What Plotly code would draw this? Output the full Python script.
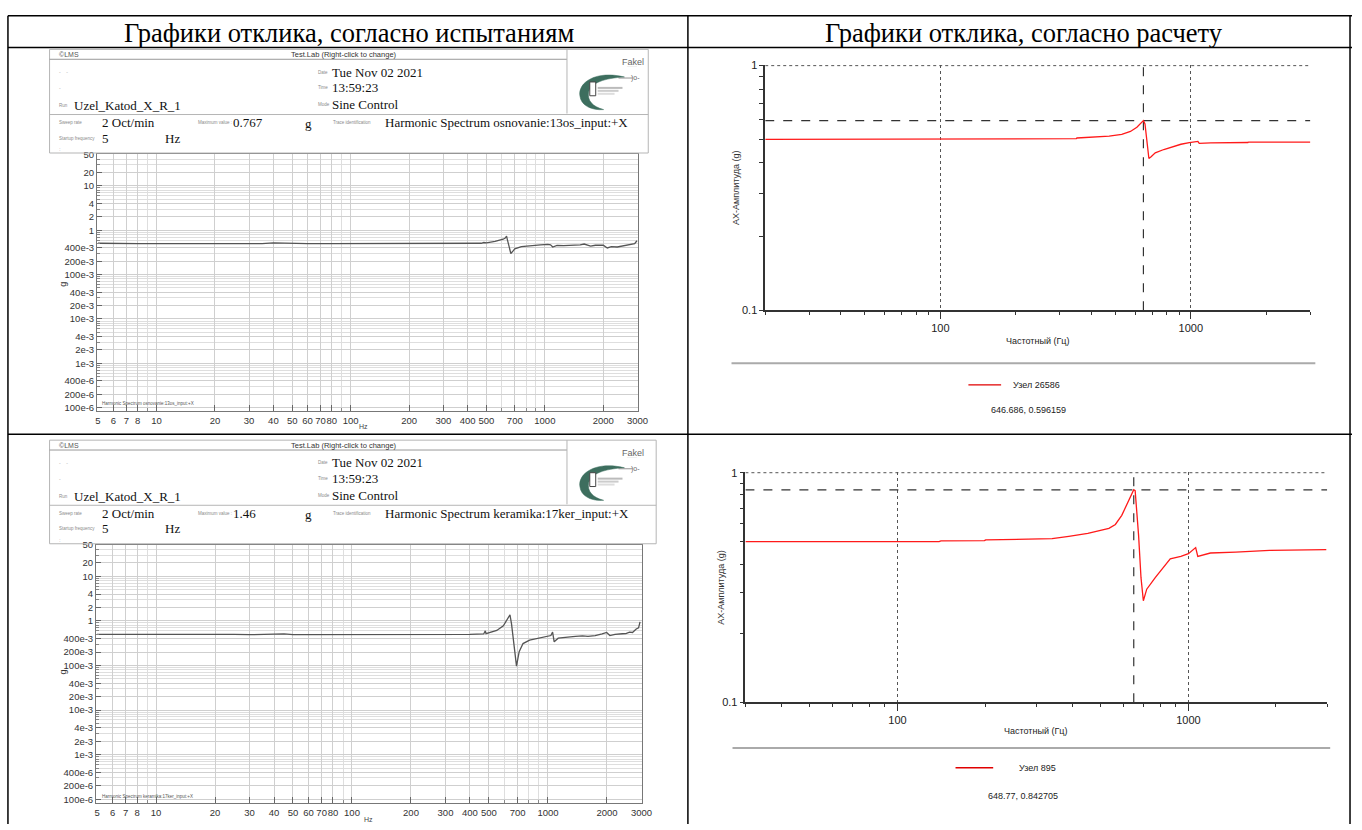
import math
import plotly.graph_objects as go

# ---------------- data ----------------
header_left = "Графики отклика, согласно испытаниям"
header_right = "Графики отклика, согласно расчету"

test1_freq = [5, 6, 7, 8, 10, 13, 17, 20, 25, 30, 35, 40, 45, 50, 60, 80, 100, 150, 200,
              300, 400, 470, 485, 500, 554, 590, 610, 625, 635, 642, 655, 668, 685, 700,
              757, 851, 950, 1036, 1070, 1098, 1155, 1250, 1362, 1450, 1520, 1594, 1650,
              1720, 1820, 1936, 2000, 2097, 2200, 2358, 2500, 2650, 2800, 2900, 2980]
test1_amp = [0.51, 0.50, 0.51, 0.50, 0.50, 0.50, 0.49, 0.50, 0.50, 0.50, 0.50, 0.52, 0.51,
             0.50, 0.50, 0.50, 0.50, 0.50, 0.50, 0.50, 0.51, 0.51, 0.53, 0.52, 0.56, 0.60,
             0.63, 0.67, 0.74, 0.60, 0.42, 0.30, 0.34, 0.38, 0.43, 0.455, 0.47, 0.48, 0.47,
             0.42, 0.455, 0.45, 0.46, 0.455, 0.47, 0.49, 0.46, 0.44, 0.46, 0.45, 0.46, 0.40,
             0.43, 0.42, 0.44, 0.46, 0.47, 0.50, 0.58]

test2_freq = [5, 6, 7, 8, 10, 13, 17, 20, 25, 30, 35, 40, 45, 50, 60, 80, 100, 150, 200, 300,
              400, 470, 479, 483, 490, 548, 592, 620, 640, 652, 673, 691, 713, 746, 806, 905,
              1000, 1035, 1056, 1076, 1128, 1200, 1300, 1382, 1500, 1600, 1741, 1890, 1993,
              2070, 2200, 2395, 2500, 2607, 2700, 2821, 2900, 2950]
test2_amp = [0.50, 0.50, 0.51, 0.50, 0.50, 0.50, 0.50, 0.50, 0.50, 0.49, 0.50, 0.50, 0.51,
             0.49, 0.49, 0.49, 0.49, 0.49, 0.49, 0.49, 0.50, 0.51, 0.60, 0.52, 0.53, 0.61,
             0.78, 1.05, 1.37, 0.85, 0.29, 0.097, 0.205, 0.31, 0.37, 0.41, 0.44, 0.47, 0.56,
             0.34, 0.41, 0.43, 0.44, 0.45, 0.46, 0.45, 0.47, 0.51, 0.55, 0.47, 0.50, 0.515,
             0.52, 0.56, 0.55, 0.66, 0.70, 0.95]

calc1_freq = [20, 100, 199, 201, 349, 351, 404, 472, 530, 574, 609, 632, 646.686, 656, 668,
              680, 694, 721, 780, 850, 913, 986, 1045, 1067, 1080, 1200, 1690, 1700, 3000]
calc1_amp = [0.4995, 0.4995, 0.4995, 0.502, 0.5025, 0.506, 0.51, 0.515, 0.523, 0.538, 0.56,
             0.586, 0.596159, 0.577, 0.495, 0.417, 0.424, 0.44, 0.454, 0.468, 0.477, 0.484,
             0.486, 0.49, 0.481, 0.483, 0.485, 0.487, 0.487]

calc2_freq = [30, 139, 141, 199, 201, 340, 388, 451, 533, 561, 590, 620, 648.77, 656, 674,
              687, 700, 719, 769, 866, 942, 1000, 1059, 1077, 1190, 1454, 1900, 2978]
calc2_amp = [0.501, 0.501, 0.505, 0.506, 0.51, 0.516, 0.528, 0.544, 0.572, 0.595, 0.652,
             0.744, 0.842705, 0.835, 0.535, 0.349, 0.277, 0.311, 0.349, 0.422, 0.432, 0.444,
             0.472, 0.432, 0.447, 0.451, 0.459, 0.462]

peak1 = (646.686, 0.596159)
peak2 = (648.77, 0.842705)
node1 = "Узел 26586"
node2 = "Узел 895"

lms_xticks = [5, 6, 7, 8, 10, 20, 30, 40, 50, 60, 70, 80, 100, 200, 300, 400, 500, 700, 1000, 2000, 3000]
lms_yticks = [50, 20, 10, 4, 2, 1, 0.4, 0.2, 0.1, 0.04, 0.02, 0.01, 0.004, 0.002, 0.001, 4e-4, 2e-4, 1e-4]
lms_yticktext = ["50", "20", "10", "4", "2", "1", "400e-3", "200e-3", "100e-3", "40e-3", "20e-3",
                 "10e-3", "4e-3", "2e-3", "1e-3", "400e-6", "200e-6", "100e-6"]

lms_info = [
    dict(run="Uzel_Katod_X_R_1", date="Tue Nov 02 2021", time="13:59:23", mode="Sine Control",
         sweep="2 Oct/min", maxval="0.767", trace="Harmonic Spectrum osnovanie:13os_input:+X", start="5"),
    dict(run="Uzel_Katod_X_R_1", date="Tue Nov 02 2021", time="13:59:23", mode="Sine Control",
         sweep="2 Oct/min", maxval="1.46", trace="Harmonic Spectrum keramika:17ker_input:+X", start="5"),
]

# ---------------- helpers ----------------
W, H = 1362, 830
def px(x): return x / W
def py(y): return 1 - y / H

def decade_values(lo, hi):
    out = []
    e = math.floor(math.log10(lo))
    while 10 ** e <= hi * 1.0001:
        for k in range(1, 10):
            v = k * 10 ** e
            if lo * 0.999 <= v <= hi * 1.001:
                out.append(v)
        e += 1
    return out

def svg_path(cmds):
    s = ""
    for c, pts in cmds:
        s += c
        for (x, y) in pts:
            s += " %.5f,%.5f" % (px(x), py(y))
        s += " "
    return s.strip()

fig = go.Figure()
shapes = []
ann = []

def line(x0, y0, x1, y1, color="black", width=1.5, dash=None):
    d = dict(type="line", xref="paper", yref="paper", x0=px(x0), y0=py(y0), x1=px(x1), y1=py(y1),
             line=dict(color=color, width=width), layer="above")
    if dash:
        d["line"]["dash"] = dash
    shapes.append(d)

def text(x, y, t, size=10, color="#111", family="Liberation Sans", xanchor="left", angle=0):
    ann.append(dict(xref="paper", yref="paper", x=px(x), y=py(y), text=t, showarrow=False,
                    xanchor=xanchor, yanchor="middle", textangle=angle, borderpad=0,
                    font=dict(family=family, size=size, color=color)))

# ---------------- table ----------------
line(6, 11, 1362, 11)
line(6, 43, 1362, 43)
line(6, 435, 1362, 435)
line(6, 11, 6, 830)
line(692, 11, 692, 830)
line(1360, 11, 1360, 830)
text(350, 28, header_left, size=26.5, family="Liberation Serif", xanchor="center", color="#000")
text(1031, 28, header_right, size=26.5, family="Liberation Serif", xanchor="center", color="#000")

# ---------------- LMS headers ----------------
def lms_header(dy, info, right):
    g = "#b5b5b5"
    line(48, 45 + dy, right, 45 + dy, color=g, width=1)
    line(48, 150 + dy, right, 150 + dy, color=g, width=1)
    line(48, 45 + dy, 48, 150 + dy, color=g, width=1)
    line(right, 45 + dy, right, 150 + dy, color=g, width=1)
    line(48, 55 + dy, 570, 55 + dy, color="#999", width=1)
    line(570, 45 + dy, 570, 110 + dy, color=g, width=1)
    line(48, 111 + dy, right, 111 + dy, color=g, width=1)
    text(56, 50 + dy, "©LMS", size=7, color="#555")
    text(345, 50 + dy, "Test.Lab (Right-click to change)", size=7.5, color="#333", xanchor="center")
    small = "#8a8a8a"
    sf = "Liberation Serif"
    text(318, 68 + dy, "Date", size=4.5, color=small)
    text(332, 68 + dy, info["date"], size=13, family=sf)
    text(318, 84 + dy, "Time", size=4.5, color=small)
    text(332, 84 + dy, info["time"], size=13, family=sf)
    text(56, 102 + dy, "Run", size=4.5, color=small)
    text(72, 102 + dy, info["run"], size=13, family=sf)
    text(318, 101 + dy, "Mode", size=4.5, color=small)
    text(332, 101 + dy, info["mode"], size=13, family=sf)
    text(56, 119 + dy, "Sweep rate", size=4.5, color=small)
    text(100, 119 + dy, info["sweep"], size=13, family=sf)
    text(197, 119 + dy, "Maximum value :", size=4.5, color=small)
    text(232, 119 + dy, info["maxval"], size=13, family=sf)
    text(305, 120 + dy, "g", size=13, family=sf)
    text(333, 119 + dy, "Trace identification", size=4.5, color=small)
    text(385, 119 + dy, info["trace"], size=13, family=sf)
    text(56, 135 + dy, "Startup frequency", size=4.5, color=small)
    text(100, 135 + dy, info["start"], size=13, family=sf)
    text(163, 135 + dy, "Hz", size=13, family=sf)
    text(56, 68 + dy, "-    -", size=5, color="#aaa")
    text(56, 84 + dy, "-", size=5, color="#aaa")
    text(56, 146 + dy, ":", size=6, color="#aaa")
    # Fakel logo
    text(625, 58 + dy, "Fakel", size=9, color="#666")
    text(630, 63 + dy, "··········", size=3, color="#888")
    crescent = [("M", [(628, 73 + dy)]),
                ("C", [(600, 66 + dy), (581, 78 + dy), (583, 92 + dy)]),
                ("C", [(584, 102 + dy), (595, 107 + dy), (607, 106 + dy)]),
                ("C", [(596, 103 + dy), (590, 97 + dy), (592, 88 + dy)]),
                ("C", [(594, 79 + dy), (608, 74 + dy), (628, 73 + dy)]),
                ("Z", [])]
    shapes.append(dict(type="path", xref="paper", yref="paper", path=svg_path(crescent),
                       fillcolor="#3d6e5e", line=dict(color="#3d6e5e", width=0.5), layer="above"))
    shapes.append(dict(type="rect", xref="paper", yref="paper", x0=px(593), x1=px(599),
                       y0=py(92 + dy), y1=py(78 + dy), fillcolor="white",
                       line=dict(color="#444", width=1), layer="above"))
    for i, c in enumerate(["#bbb", "#ccc", "#ddd"]):
        line(601, 84 + dy + 3 * i, 626 - 4 * i, 84 + dy + 3 * i, color=c, width=2)
    line(622, 74 + dy, 636, 74 + dy, color="#777", width=0.8)
    text(634, 74 + dy, ")o-", size=7, color="#666")

lms_header(0, lms_info[0], 652)
lms_header(396, lms_info[1], 660)

# ---------------- axes ----------------
minor_x = [v for v in decade_values(5, 3000) if v not in lms_xticks]
minor_y = [v for v in decade_values(1e-4, 90) if v not in lms_yticks]

def lms_axes(n, xd, yd, xr, yr):
    xa = dict(type="log", domain=[px(xd[0]), px(xd[1])], range=xr, anchor="y%s" % n,
              tickmode="array", tickvals=lms_xticks, ticktext=[str(v) for v in lms_xticks],
              tickangle=0, tickfont=dict(family="Liberation Sans", size=9.5, color="#333"),
              ticks="inside", ticklen=6, tickcolor="#666",
              showgrid=True, gridcolor="#cfcfcf", gridwidth=1,
              showline=True, linecolor="#777", linewidth=1.2, mirror=True, zeroline=False,
              minor=dict(tickmode="array", tickvals=minor_x, showgrid=True, gridcolor="#dedede",
                         ticks="inside", ticklen=3, tickcolor="#888"))
    ya = dict(type="log", domain=[py(yd[1]), py(yd[0])], range=yr, anchor="x%s" % n,
              tickmode="array", tickvals=lms_yticks, ticktext=lms_yticktext,
              tickfont=dict(family="Liberation Sans", size=9.5, color="#333"),
              ticks="inside", ticklen=5, tickcolor="#666",
              showgrid=True, gridcolor="#cfcfcf", gridwidth=1,
              showline=True, linecolor="#777", linewidth=1.2, mirror=True, zeroline=False,
              minor=dict(tickmode="array", tickvals=minor_y, showgrid=True, gridcolor="#dedede",
                         ticks="inside", ticklen=3, tickcolor="#888"))
    return xa, ya

def calc_axes(n, xd, yd, xr):
    xa = dict(type="log", domain=[px(xd[0]), px(xd[1])], range=xr, anchor="y%s" % n,
              tickmode="array", tickvals=[100, 1000], ticktext=["100", "1000"],
              tickangle=0, tickfont=dict(family="Liberation Sans", size=11, color="#222"),
              ticks="outside", ticklen=7, tickcolor="#333",
              showgrid=True, gridcolor="#555", griddash="dot", gridwidth=1,
              showline=True, linecolor="#333", linewidth=1.5, zeroline=False,
              minor=dict(tickmode="array",
                         tickvals=[v for v in decade_values(20, 3000) if v not in (100, 1000)],
                         ticks="outside", ticklen=3, tickcolor="#333", showgrid=False))
    ya = dict(type="log", domain=[py(yd[1]), py(yd[0])], range=[-1, 0.003], anchor="x%s" % n,
              tickmode="array", tickvals=[0.1, 1], ticktext=["0.1", "1"],
              tickfont=dict(family="Liberation Sans", size=11, color="#222"),
              ticks="outside", ticklen=4, tickcolor="#333",
              showgrid=False, showline=True, linecolor="#333", linewidth=1.5, zeroline=False,
              minor=dict(tickmode="array", tickvals=[0.2, 0.3, 0.4, 0.5, 0.6, 0.7, 0.8, 0.9],
                         ticks="outside", ticklen=4, tickcolor="#333", showgrid=False))
    return xa, ya

x1, y1 = lms_axes(1, (96, 642), (151, 411.7), [math.log10(4.95), math.log10(3030)], [-4.08, 1.72])
x2, y2 = lms_axes(2, (95, 646), (547, 809), [math.log10(4.95), math.log10(3030)], [-4.09, 1.708])
x3, y3 = calc_axes(3, (770, 1320), (60.7, 309.3), [math.log10(20), math.log10(3000)])
x4, y4 = calc_axes(4, (750, 1337), (473.3, 706.7), [math.log10(30), math.log10(3000)])

# ---------------- traces ----------------
gray_line = dict(color="#555", width=1.3)
red_line = dict(color="#ff1a1a", width=1.3)
fig.add_trace(go.Scatter(x=test1_freq, y=test1_amp, xaxis="x", yaxis="y", mode="lines",
                         line=gray_line, showlegend=False, hoverinfo="skip"))
fig.add_trace(go.Scatter(x=test2_freq, y=test2_amp, xaxis="x2", yaxis="y2", mode="lines",
                         line=gray_line, showlegend=False, hoverinfo="skip"))

dash_line = dict(color="#333", width=1.2, dash="dash")
dot_line = dict(color="#555", width=1, dash="dot")
for n, fr, am, pk, xlo in [(3, calc1_freq, calc1_amp, peak1, 20), (4, calc2_freq, calc2_amp, peak2, 30)]:
    fig.add_trace(go.Scatter(x=[xlo, 3000], y=[1, 1], xaxis="x%d" % n, yaxis="y%d" % n,
                             mode="lines", line=dot_line, showlegend=False, hoverinfo="skip"))
    fig.add_trace(go.Scatter(x=[xlo, 3000], y=[pk[1], pk[1]], xaxis="x%d" % n, yaxis="y%d" % n,
                             mode="lines", line=dash_line, showlegend=False, hoverinfo="skip"))
    fig.add_trace(go.Scatter(x=[pk[0], pk[0]], y=[0.1, 1], xaxis="x%d" % n, yaxis="y%d" % n,
                             mode="lines", line=dash_line, showlegend=False, hoverinfo="skip"))
    fig.add_trace(go.Scatter(x=fr, y=am, xaxis="x%d" % n, yaxis="y%d" % n, mode="lines",
                             line=red_line, showlegend=False, hoverinfo="skip"))

# LMS labels
text(62, 283, "g", size=9, color="#333", xanchor="center", angle=-90)
text(62, 676, "g", size=9, color="#333", xanchor="center", angle=-90)
text(365, 427, "Hz", size=7, color="#444", xanchor="center")
text(370, 825, "Hz", size=7, color="#444", xanchor="center")
text(100, 404, lms_info[0]["trace"], size=4.5, color="#555")
text(100, 802, lms_info[1]["trace"], size=4.5, color="#555")

# calc labels
text(740, 185, "AX-Амплитуда (g)", size=9, color="#333", xanchor="center", angle=-90)
text(726, 590, "AX-Амплитуда (g)", size=9, color="#333", xanchor="center", angle=-90)
text(1045, 341, "Частотный (Гц)", size=9, color="#222", xanchor="center")
text(1043, 736, "Частотный (Гц)", size=9, color="#222", xanchor="center")
line(736, 363, 1325, 363, color="#aaaaaa", width=2)
line(737, 753, 1340, 753, color="#aaaaaa", width=2)
line(975, 385, 1008, 385, color="#e00000", width=1.3)
text(1019, 385, node1, size=9, color="#222")
text(1036, 410, "%g, %g" % peak1, size=9, color="#222", xanchor="center")
line(962, 773, 1000, 773, color="#e00000", width=1.3)
text(1025, 773, node2, size=9, color="#222")
text(1030, 802, "%g, %g" % peak2, size=9, color="#222", xanchor="center")

fig.update_layout(width=W, height=H, autosize=False, margin=dict(l=0, r=0, t=0, b=0, pad=0),
                  paper_bgcolor="white", plot_bgcolor="white", showlegend=False,
                  xaxis=x1, yaxis=y1, xaxis2=x2, yaxis2=y2, xaxis3=x3, yaxis3=y3,
                  xaxis4=x4, yaxis4=y4, shapes=shapes, annotations=ann)

fig.write_html("out.html", config={"displayModeBar": False},
               post_script="document.body.style.margin='0px';")
